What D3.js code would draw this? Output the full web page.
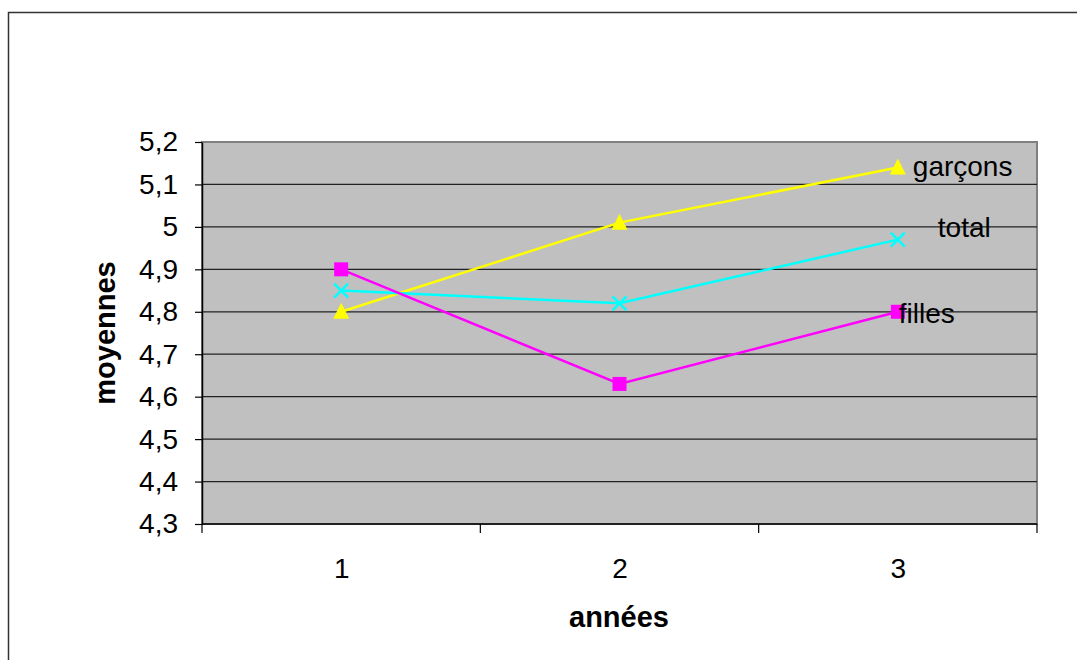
<!DOCTYPE html>
<html><head><meta charset="utf-8">
<script src="https://cdn.jsdelivr.net/npm/d3@7"></script>
<style>body{margin:0;background:#fff}svg{display:block;font-family:"Liberation Sans",Arial,sans-serif}</style>
</head><body><svg id="c" width="1077" height="660"></svg>
<script>
const categories = ["1","2","3"];
const garcons = [4.80, 5.01, 5.14];
const total = [4.85, 4.82, 4.97];
const filles = [4.90, 4.63, 4.80];
const yTicks = [4.3,4.4,4.5,4.6,4.7,4.8,4.9,5.0,5.1,5.2];
const seriesNames = ["garçons","total","filles"];

const svg = d3.select("#c");
const L=202, R=1037, T=142, B=524;
const x = d3.scalePoint().domain(categories).range([L,R]).padding(0.5);
const y = d3.scaleLinear().domain([4.3,5.2]).range([B,T]);
const fmt = v => d3.format(".1f")(v).replace(".",",").replace(/,0$/,"");

// outer frame
svg.append("rect").attr("x",8.5).attr("y",12.5).attr("width",1200).attr("height",800)
  .attr("fill","none").attr("stroke","#333").attr("stroke-width",1.5);

// plot area
svg.append("rect").attr("x",L).attr("y",T).attr("width",R-L).attr("height",B-T)
  .attr("fill","#c0c0c0").attr("stroke","#808080").attr("stroke-width",2);

// gridlines
svg.append("g").selectAll("line").data(yTicks.filter(v=>v>4.3 && v<5.2)).join("line")
  .attr("x1",L).attr("x2",R).attr("y1",d=>y(d)).attr("y2",d=>y(d))
  .attr("stroke","#222").attr("stroke-width",1.2);

// y axis
const ya = svg.append("g").attr("transform",`translate(${L},0)`)
  .call(d3.axisLeft(y).tickValues(yTicks).tickSize(7).tickSizeOuter(0).tickFormat(fmt));
ya.select(".domain").attr("stroke","#000").attr("stroke-width",1.5);
ya.selectAll(".tick line").attr("stroke","#000").attr("stroke-width",1.2);
ya.selectAll(".tick text").attr("font-size",28).attr("fill","#000").attr("x",-24)
  .attr("font-family","Liberation Sans, Arial, sans-serif");

// x axis
const bounds = [0,1,2,3].map(i => L + i*(R-L)/3);
svg.append("line").attr("x1",L).attr("x2",R).attr("y1",B).attr("y2",B).attr("stroke","#000").attr("stroke-width",1.5);
svg.append("g").selectAll("line").data(bounds).join("line")
  .attr("x1",d=>d).attr("x2",d=>d).attr("y1",B).attr("y2",B+9).attr("stroke","#000").attr("stroke-width",1.2);
const xa = svg.append("g").attr("transform",`translate(0,${B})`)
  .call(d3.axisBottom(x).tickSize(0).tickSizeOuter(0));
xa.select(".domain").remove();
xa.selectAll(".tick text").attr("font-size",28).attr("fill","#000").attr("dy",0).attr("y",54)
  .attr("font-family","Liberation Sans, Arial, sans-serif");

// titles
svg.append("text").attr("x",619).attr("y",627).attr("text-anchor","middle")
  .attr("font-size",29).attr("font-weight","bold").text("années");
svg.append("text").attr("transform","translate(115,333) rotate(-90)").attr("text-anchor","middle")
  .attr("font-size",29).attr("font-weight","bold").text("moyennes");

const line = d3.line().x((d,i)=>x(categories[i])).y(d=>y(d));
function series(vals,color,shape){
  svg.append("path").datum(vals).attr("d",line).attr("fill","none").attr("stroke",color).attr("stroke-width",2.5);
  const g = svg.append("g").selectAll("g").data(vals).join("g")
    .attr("transform",(d,i)=>`translate(${x(categories[i])},${y(d)})`);
  if(shape==="tri") g.append("path").attr("d","M0,-9 L8,7 L-8,7 Z").attr("fill",color);
  if(shape==="sq") g.append("rect").attr("x",-7).attr("y",-7).attr("width",14).attr("height",14).attr("fill",color);
  if(shape==="x") g.append("path").attr("d","M-7,-7 L7,7 M-7,7 L7,-7").attr("stroke",color).attr("stroke-width",2.5);
}
series(garcons,"#ffff00","tri");
series(total,"#00ffff","x");
series(filles,"#ff00ff","sq");

// series labels
const lbl = [
  {n:seriesNames[0], v:garcons[2], dx:15, dy:9},
  {n:seriesNames[1], v:total[2], dx:40, dy:-3},
  {n:seriesNames[2], v:filles[2], dx:1, dy:11}
];
svg.append("g").selectAll("text").data(lbl).join("text")
  .attr("x",d=>x(categories[2])+d.dx).attr("y",d=>y(d.v)+d.dy)
  .attr("font-size",28).attr("fill","#000").text(d=>d.n);
</script></body></html>
